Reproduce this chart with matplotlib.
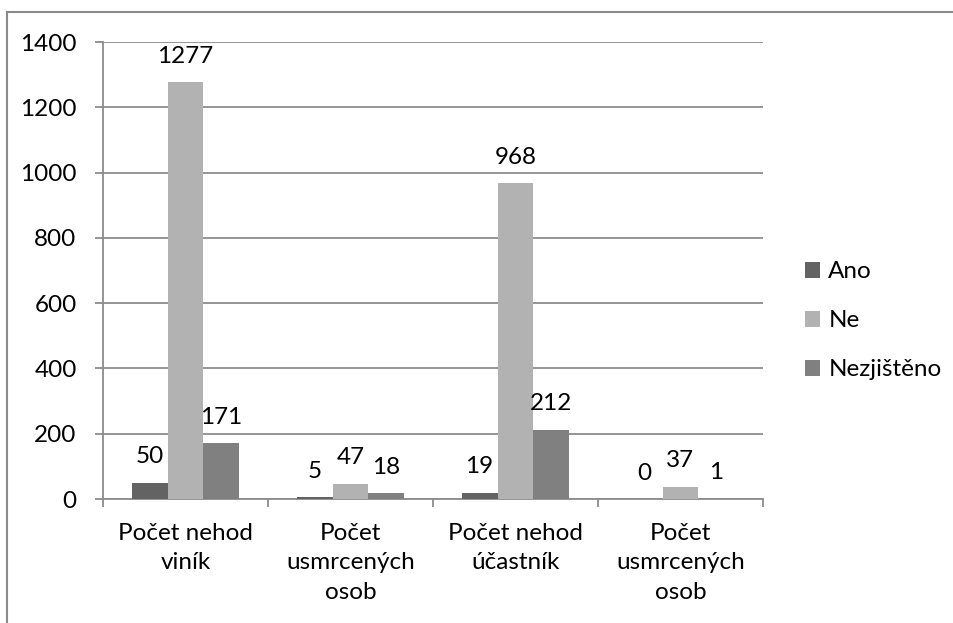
import matplotlib.pyplot as plt
import numpy as np
from matplotlib.lines import Line2D

plt.rcParams['font.family'] = ['Lato', 'DejaVu Sans']

categories = ['Počet nehod\nviník', 'Počet\nusmrcených\nosob',
              'Počet nehod\núčastník', 'Počet\nusmrcených\nosob']
series_names = ['Ano', 'Ne', 'Nezjištěno']
ano = [50, 5, 19, 0]
ne = [1277, 47, 968, 37]
nezjisteno = [171, 18, 212, 1]
colors = ['#636363', '#b2b2b2', '#808080']
y_ticks = [0, 200, 400, 600, 800, 1000, 1200, 1400]

fig = plt.figure(figsize=(9.54, 6.23), dpi=100)
ax = fig.add_axes([103 / 954, 1 - 499 / 623, 660 / 954, 457 / 623])

x = np.arange(len(categories))
width = 0.218
grid_color = '#8c8c8c'
fs = 17.5

for i, (name, vals, col) in enumerate(zip(series_names, [ano, ne, nezjisteno], colors)):
    pos = x + (i - 1) * width
    ax.bar(pos, vals, width, color=col, label=name, zorder=3)
    for px, v in zip(pos, vals):
        ax.annotate(str(v), (px, v), xytext=(0, 14), textcoords='offset points',
                    ha='center', va='baseline', fontsize=fs, color='black')

ax.set_xlim(-0.5, len(categories) - 0.5)
ax.set_ylim(0, 1400)
ax.set_yticks(y_ticks)
ax.yaxis.grid(True, color=grid_color, linewidth=1.3, zorder=0)
ax.set_axisbelow(True)

# category boundaries get the ticks, labels sit at the centres
ax.set_xticks(np.arange(len(categories) + 1) - 0.5)
ax.set_xticklabels([])
ax.set_xticks(x, minor=True)
ax.set_xticklabels(categories, minor=True, fontsize=fs, linespacing=1.5)
ax.tick_params(axis='x', which='major', length=6, width=1.3, color=grid_color)
ax.tick_params(axis='x', which='minor', length=0, pad=17)
ax.tick_params(axis='y', length=6, width=1.3, color=grid_color, pad=13, labelsize=fs)

for side in ['top', 'right']:
    ax.spines[side].set_visible(False)
for side in ['left', 'bottom']:
    ax.spines[side].set_color(grid_color)
    ax.spines[side].set_linewidth(1.3)

ax.legend(loc='center left', bbox_to_anchor=(1.03, 0.39), frameon=False,
          fontsize=fs, handlelength=0.62, handleheight=0.62, handletextpad=0.35,
          labelspacing=1.15)

# chart frame
fig.add_artist(Line2D([7 / 954, 7 / 954], [0, 1 - 12 / 623], color='#8a8a8a', linewidth=1.5))
fig.add_artist(Line2D([7 / 954, 1], [1 - 12 / 623, 1 - 12 / 623], color='#8a8a8a', linewidth=1.5))

fig.savefig('out.png', dpi=100)
